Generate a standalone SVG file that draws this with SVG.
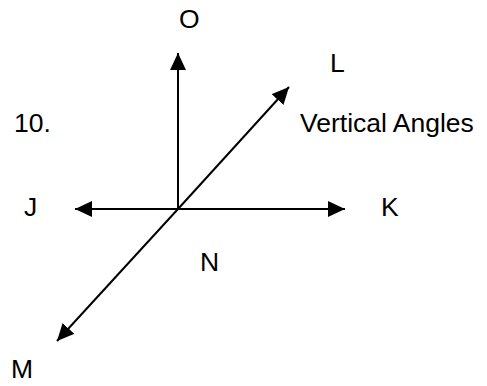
<svg xmlns="http://www.w3.org/2000/svg" width="487" height="386" viewBox="0 0 487 386">
<style>
text{font-family:"Liberation Sans",Arial,sans-serif;font-size:26.5px;fill:#000}
.ln{stroke:#000;stroke-width:2;fill:none}
</style>
<defs>
<marker id="ah" viewBox="0 0 17 16" refX="17" refY="8" markerWidth="17" markerHeight="16" markerUnits="userSpaceOnUse" orient="auto">
<path d="M0,0 L17,8 L0,16 Z" fill="#000"/>
</marker>
</defs>
<rect width="487" height="386" fill="#fff"/>
<g id="connectors">
<line class="ln" x1="178" y1="209" x2="178" y2="53" marker-end="url(#ah)"/>
<line class="ln" x1="178" y1="209" x2="75" y2="209" marker-end="url(#ah)"/>
<line class="ln" x1="178" y1="209" x2="345" y2="209" marker-end="url(#ah)"/>
<line class="ln" x1="178" y1="209" x2="289" y2="87" marker-end="url(#ah)"/>
<line class="ln" x1="178" y1="209" x2="57" y2="341" marker-end="url(#ah)"/>
</g>
<g id="O"><text x="179" y="28">O</text></g>
<g id="L"><text x="330" y="72">L</text></g>
<g id="J"><text x="24" y="216">J</text></g>
<g id="K"><text x="381" y="216">K</text></g>
<g id="N"><text x="200" y="271">N</text></g>
<g id="M"><text x="11" y="378">M</text></g>
<g id="label10"><text x="14" y="132">10.</text></g>
<g id="title"><text x="300" y="132">Vertical Angles</text></g>
</svg>
